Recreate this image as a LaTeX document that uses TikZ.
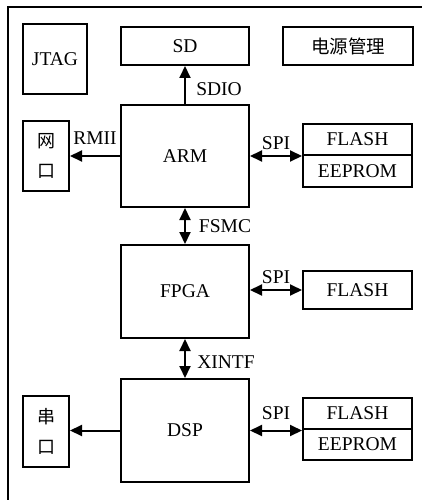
\documentclass[tikz,border=0pt]{standalone}
\usepackage{fontspec}
\setmainfont{Liberation Serif}
\newfontfamily\cjk{Noto Sans CJK SC}
\usetikzlibrary{arrows.meta}
\begin{document}
\begin{tikzpicture}[x=1pt,y=-1pt,
  font=\fontsize{19.5}{21}\selectfont,
  box/.style={draw, line width=2pt, inner sep=0pt, minimum width=#1},
  box/.default=128pt,
  sarrow/.style={line width=2pt, -{Triangle[length=12pt,width=11pt]}},
  darrow/.style={line width=2pt, {Triangle[length=12pt,width=11pt]}-{Triangle[length=12pt,width=11pt]}},
  lbl/.style={inner sep=0pt}]
\useasboundingbox (0,0) rectangle (430,500);
\draw[line width=1.6pt] (8,500) -- (8,7) -- (422,7);

\node[box=64pt, minimum height=70pt] (jtag) at (55,59) {JTAG};
\node[box=128pt, minimum height=38pt] (sd) at (185,46) {SD};
\node[box=130pt, minimum height=38pt] (pwr) at (348,46) {\cjk\fontsize{18.5}{20}\selectfont 电源管理};

\node[box=46pt, minimum height=70pt, align=center] (net) at (46,156) {\cjk\fontsize{18}{20}\selectfont 网\\[9pt]\cjk\fontsize{18}{20}\selectfont 口};
\node[box=128pt, minimum height=102pt] (arm) at (185,156) {ARM};
\node[box=109pt, minimum height=31pt] (f1) at (357.5,139.5) {FLASH};
\node[box=109pt, minimum height=32pt] (e1) at (357.5,171) {EEPROM};

\node[box=128pt, minimum height=93pt] (fpga) at (185,291.5) {FPGA};
\node[box=109pt, minimum height=38pt] (f2) at (357.5,290) {FLASH};

\node[box=46pt, minimum height=71pt, align=center] (ser) at (46,431.5) {\cjk\fontsize{18}{20}\selectfont 串\\[9pt]\cjk\fontsize{18}{20}\selectfont 口};
\node[box=128pt, minimum height=103pt] (dsp) at (185,430.5) {DSP};
\node[box=109pt, minimum height=31pt] (f3) at (357.5,413.5) {FLASH};
\node[box=109pt, minimum height=31pt] (e3) at (357.5,444.5) {EEPROM};

\draw[sarrow] (arm.north) -- (sd.south);
\draw[sarrow] (arm.west) -- (arm.west -| net.east);
\draw[darrow] (arm.east) -- (arm.east -| f1.west);
\draw[darrow] (arm.south) -- (fpga.north);
\draw[darrow] (f2.west -| fpga.east) -- (f2.west);
\draw[darrow] (fpga.south) -- (dsp.north);
\draw[sarrow] (dsp.west) -- (dsp.west -| ser.east);
\draw[darrow] (dsp.east) -- (dsp.east -| f3.west);

\node[lbl] (l1) at (219,89) {SDIO};
\node[lbl] (l2) at (95,138) {RMII};
\node[lbl] (l3) at (276,143) {SPI};
\node[lbl] (l4) at (225,226) {FSMC};
\node[lbl] (l5) at (276,277) {SPI};
\node[lbl] (l6) at (226,362) {XINTF};
\node[lbl] (l7) at (276,413) {SPI};
\end{tikzpicture}
\end{document}
